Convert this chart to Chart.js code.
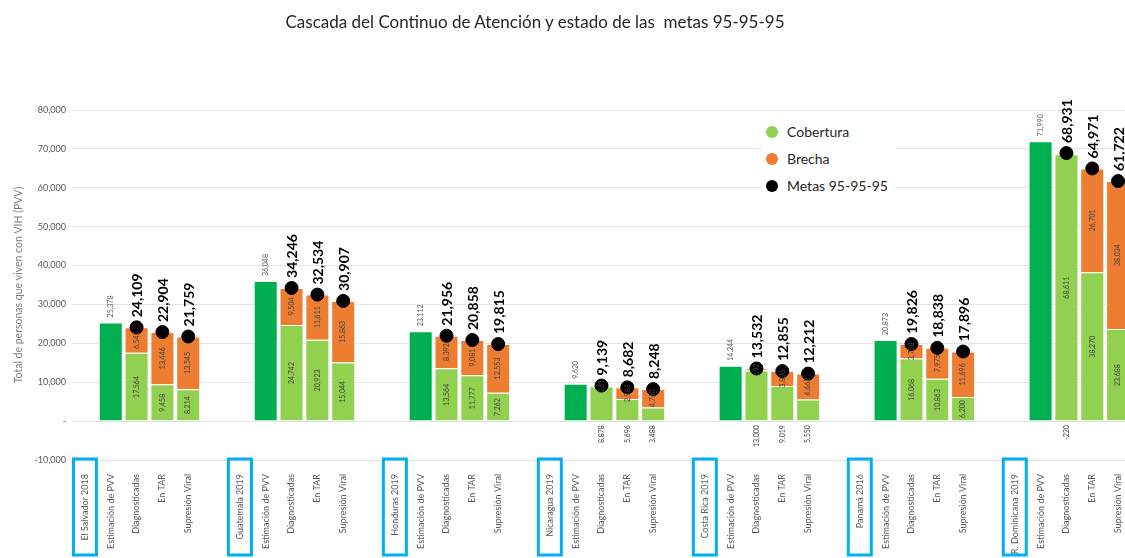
<!DOCTYPE html>
<html>
<head>
<meta charset="utf-8">
<script src="https://cdn.jsdelivr.net/npm/chart.js@4.4.1/dist/chart.umd.min.js"></script>
<style>
  body { margin: 0; background: #fff; overflow: hidden; font-family: Lato, "Open Sans", sans-serif; }
  #wrap { position: relative; width: 1140px; height: 558px; }
  #titulo { position: absolute; left: 0; width: 1070px; top: 11px; text-align: center; font-size: 17px; color: #262626; }
  #leyenda { position: absolute; left: 762px; top: 116px; background: #fff; padding: 2px 8px 2px 4px; }
  #leyenda div { display: flex; align-items: center; height: 27px; font-size: 14px; color: #262626; }
  #leyenda span.m { width: 12px; height: 12px; border-radius: 50%; display: inline-block; margin-right: 9px; }
</style>
</head>
<body>
<div id="wrap">
  <canvas id="chart" width="1140" height="558"></canvas>
  <div id="titulo">Cascada del Continuo de Atención y estado de las&nbsp; metas 95-95-95</div>
  <div id="leyenda"></div>
</div>
<script>
const countries = ["El Salvador 2018", "Guatemala 2019", "Honduras 2019", "Nicaragua 2019",
                   "Costa Rica 2019", "Panamá 2016", "R. Dominicana 2019"];
const stages = ["Estimación de PVV", "Diagnosticadas", "En TAR", "Supresión Viral"];

// estimated PLHIV per country
const estimacion = [25378, 36048, 23112, 9620, 14244, 20873, 71990];
// [Diagnosticadas, En TAR, Supresión Viral]
const cobertura = [
    [17564, 9458, 8214],
    [24742, 20923, 15044],
    [13564, 11777, 7262],
    [8878, 5696, 3488],
    [13000, 9019, 5550],
    [16068, 10863, 6200],
    [68611, 38270, 23688]
];
const brecha = [
    [6545, 13446, 13545],
    [9504, 11611, 15863],
    [8392, 9081, 12553],
    [261, 2986, 4760],
    [532, 3836, 6662],
    [3758, 7975, 11696],
    [-220, 26701, 38034]
];
const metas = [
    [24109, 22904, 21759],
    [34246, 32534, 30907],
    [21956, 20858, 19815],
    [9139, 8682, 8248],
    [13532, 12855, 12212],
    [19826, 18838, 17896],
    [68931, 64971, 61722]
];

const yTicks = [-10000, 0, 10000, 20000, 30000, 40000, 50000, 60000, 70000, 80000];

// build the flat category list: country, 4 stages, blank gap
const labels = [], pvvData = [], cobData = [], brData = [], metaData = [], countryIdx = [];
countries.forEach((c, i) => {
    countryIdx.push(labels.length);
    labels.push(c); pvvData.push(null); cobData.push(null); brData.push(null); metaData.push(null);
    labels.push(stages[0]); pvvData.push(estimacion[i]); cobData.push(null); brData.push(null); metaData.push(null);
    for (let k = 0; k < 3; k++) {
        labels.push(stages[k + 1]);
        pvvData.push(null);
        cobData.push(cobertura[i][k]);
        brData.push(brecha[i][k]);
        metaData.push(metas[i][k]);
    }
    if (i < countries.length - 1) {
        labels.push(""); pvvData.push(null); cobData.push(null); brData.push(null); metaData.push(null);
    }
});

const fmt = v => v.toLocaleString("en-US");
const FONT = "Lato, 'Open Sans', sans-serif";

function rotText(ctx, txt, x, y, align) {
    ctx.save();
    ctx.translate(x, y);
    ctx.rotate(-Math.PI / 2);
    ctx.textAlign = align;
    ctx.textBaseline = "middle";
    ctx.fillText(txt, 0, 0);
    ctx.restore();
}

const labelPlugin = {
    id: "etiquetas",
    afterDatasetsDraw(chart) {
        const ctx = chart.ctx;
        const y0 = chart.scales.y.getPixelForValue(0);
        const pvvMeta = chart.getDatasetMeta(0).data;
        // PVV labels above the bar
        ctx.fillStyle = "#595959";
        ctx.font = "7px " + FONT;
        pvvMeta.forEach((el, i) => {
            if (pvvData[i] == null) return;
            rotText(ctx, fmt(pvvData[i]), el.x, el.y - 5, "left");
        });
        // cobertura labels: centered, or under the axis for the small groups
        const cobMeta = chart.getDatasetMeta(1).data;
        ctx.fillStyle = "#404040";
        countries.forEach((c, g) => {
            const start = countryIdx[g] + 2;
            const estH = y0 - pvvMeta[countryIdx[g] + 1].y;
            for (let k = 0; k < 3; k++) {
                const el = cobMeta[start + k];
                const v = cobData[start + k];
                if (estH < 70) rotText(ctx, fmt(v), el.x, y0 + 4, "right");
                else rotText(ctx, fmt(v), el.x, (el.y + y0) / 2, "center");
            }
        });
        // brecha labels
        chart.getDatasetMeta(2).data.forEach((el, i) => {
            const v = brData[i];
            if (v == null) return;
            if (v < 0) rotText(ctx, fmt(v), el.x, y0 + 4, "right");
            else rotText(ctx, fmt(v), el.x, (el.y + el.base) / 2, "center");
        });
        // metas labels
        ctx.fillStyle = "#000";
        ctx.font = "bold 14px " + FONT;
        chart.getDatasetMeta(3).data.forEach((el, i) => {
            if (metaData[i] == null) return;
            rotText(ctx, fmt(metaData[i]), el.x + 1, el.y - 10, "left");
        });
    },
    afterDraw(chart) {
        const ctx = chart.ctx;
        const x = chart.scales.x;
        ctx.save();
        ctx.strokeStyle = "#00b0f0";
        ctx.lineWidth = 3;
        countryIdx.forEach(i => {
            const px = x.getPixelForTick(i);
            ctx.strokeRect(px - 11.5, chart.chartArea.bottom - 1, 23, 96);
        });
        ctx.restore();
    }
};

const chart = new Chart(document.getElementById("chart"), {
    type: "bar",
    data: {
        labels: labels,
        datasets: [
            { label: "Estimación de PVV", data: pvvData, backgroundColor: "#00b050",
              borderColor: "#fff", borderWidth: 1, stack: "s", order: 2 },
            { label: "Cobertura", data: cobData, backgroundColor: "#92d050",
              borderColor: "#fff", borderWidth: 1, stack: "s", order: 2 },
            { label: "Brecha", data: brData, backgroundColor: "#ed7d31",
              borderColor: "#fff", borderWidth: 1, stack: "s", order: 2 },
            { label: "Metas 95-95-95", type: "line", data: metaData, stack: "m",
              showLine: false, pointRadius: 6.5, pointBackgroundColor: "#000",
              pointBorderColor: "#000", order: 1 }
        ]
    },
    options: {
        responsive: false,
        animation: false,
        devicePixelRatio: 1,
        layout: { padding: { top: 110, right: 9, left: 0, bottom: 0 } },
        datasets: { bar: { barPercentage: 0.93, categoryPercentage: 1 } },
        plugins: {
            legend: { display: false },
            tooltip: { enabled: false }
        },
        scales: {
            x: {
                stacked: true,
                grid: { display: false },
                border: { display: false },
                ticks: {
                    autoSkip: false, maxRotation: 90, minRotation: 90, padding: 6,
                    color: "#595959", font: { family: FONT, size: 9 }
                },
                afterFit(s) { s.height = 98; }
            },
            y: {
                stacked: true,
                min: -10000, max: 80000,
                afterBuildTicks(s) { s.ticks = yTicks.map(v => ({ value: v })); },
                grid: { color: "#e4e4e4", drawTicks: false },
                border: { display: false },
                ticks: {
                    padding: 6, color: "#595959", font: { family: FONT, size: 9 },
                    callback: v => v === 0 ? "-" : fmt(v)
                },
                title: {
                    display: true, text: "Total de personas que viven con VIH (PVV)",
                    color: "#7f7f7f", font: { family: FONT, size: 10.5 },
                    padding: { top: 12, bottom: 0 }
                },
                afterFit(s) { s.width = 72; }
            }
        }
    },
    plugins: [labelPlugin]
});

// legend built from the datasets
const leg = document.getElementById("leyenda");
chart.data.datasets.slice(1).forEach(ds => {
    const col = ds.type === "line" ? ds.pointBackgroundColor : ds.backgroundColor;
    leg.innerHTML += `<div><span class="m" style="background:${col}"></span>${ds.label}</div>`;
});
</script>
</body>
</html>
